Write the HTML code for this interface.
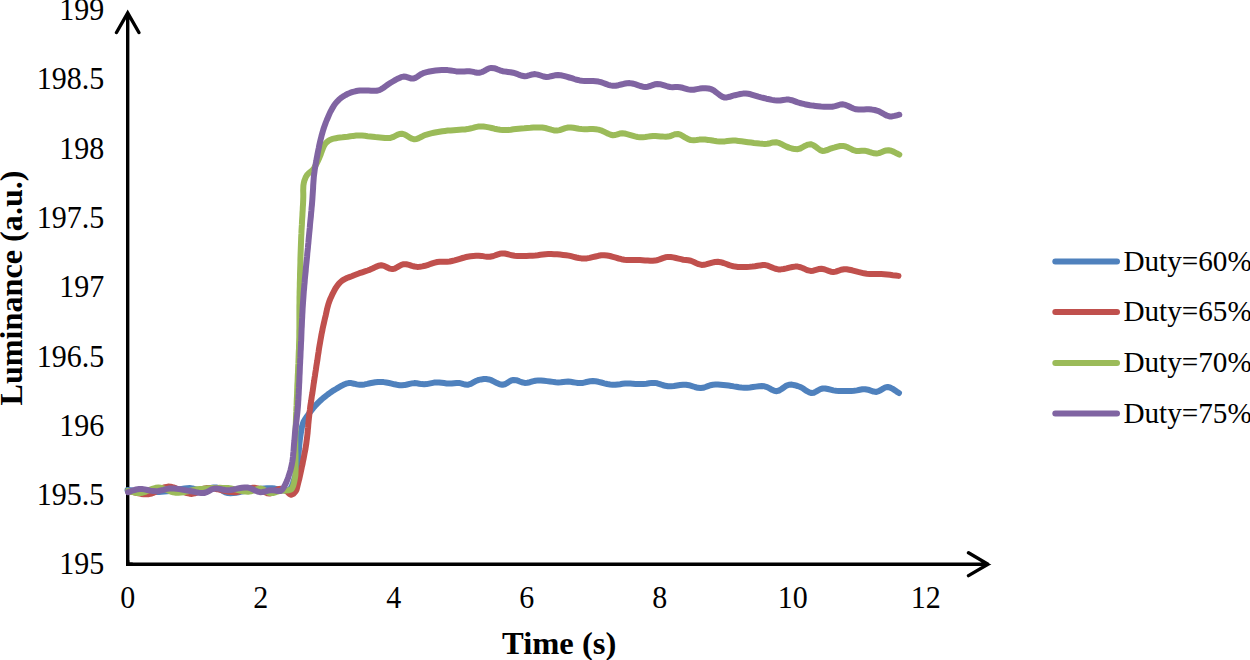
<!DOCTYPE html><html><head><meta charset="utf-8"><style>html,body{margin:0;padding:0;background:#fff;}body{width:1250px;height:660px;overflow:hidden;}svg{display:block;}text{font-family:"Liberation Serif",serif;fill:#000;}</style></head><body>
<svg width="1250" height="660" viewBox="0 0 1250 660">
<text transform="translate(104.2 574.4) scale(1 1.050)" font-size="30.0" text-anchor="end">195</text>
<text transform="translate(104.2 505.1) scale(1 1.050)" font-size="30.0" text-anchor="end">195.5</text>
<text transform="translate(104.2 435.8) scale(1 1.050)" font-size="30.0" text-anchor="end">196</text>
<text transform="translate(104.2 366.5) scale(1 1.050)" font-size="30.0" text-anchor="end">196.5</text>
<text transform="translate(104.2 297.3) scale(1 1.050)" font-size="30.0" text-anchor="end">197</text>
<text transform="translate(104.2 228.0) scale(1 1.050)" font-size="30.0" text-anchor="end">197.5</text>
<text transform="translate(104.2 158.7) scale(1 1.050)" font-size="30.0" text-anchor="end">198</text>
<text transform="translate(104.2 89.4) scale(1 1.050)" font-size="30.0" text-anchor="end">198.5</text>
<text transform="translate(104.2 20.1) scale(1 1.050)" font-size="30.0" text-anchor="end">199</text>
<text transform="translate(127.8 608.0) scale(1 1.050)" font-size="30.0" text-anchor="middle">0</text>
<text transform="translate(260.8 608.0) scale(1 1.050)" font-size="30.0" text-anchor="middle">2</text>
<text transform="translate(393.8 608.0) scale(1 1.050)" font-size="30.0" text-anchor="middle">4</text>
<text transform="translate(526.8 608.0) scale(1 1.050)" font-size="30.0" text-anchor="middle">6</text>
<text transform="translate(659.8 608.0) scale(1 1.050)" font-size="30.0" text-anchor="middle">8</text>
<text transform="translate(792.8 608.0) scale(1 1.050)" font-size="30.0" text-anchor="middle">10</text>
<text transform="translate(925.8 608.0) scale(1 1.050)" font-size="30.0" text-anchor="middle">12</text>
<text x="559.2" y="654.2" font-size="32.6" font-weight="bold" text-anchor="middle">Time (s)</text>
<text transform="translate(22.4 288.0) rotate(-90)" font-size="32.2" font-weight="bold" text-anchor="middle">Luminance (a.u.)</text>
<path d="M127.7 564.2 L127.7 13 M116.5 32.5 L127.7 13 L138.9 32.5" fill="none" stroke="#000" stroke-width="3.4" stroke-linecap="round" stroke-linejoin="miter"/>
<path d="M127.7 564.2 L988 564.2 M968.5 552.8 L988 564.2 L968.5 575.6" fill="none" stroke="#000" stroke-width="3.4" stroke-linecap="round" stroke-linejoin="miter"/>
<path d="M127.7 562 L127.7 564.2 L131 564.2" fill="none" stroke="#000" stroke-width="3.4" stroke-linecap="square" stroke-linejoin="miter"/>
<path d="M127.5 490.0 L130.3 490.3 L133.2 490.6 L136.0 491.0 L138.8 491.3 L141.7 491.6 L144.5 491.9 L147.2 492.1 L150.0 492.2 L152.9 492.2 L155.8 492.1 L158.7 492.0 L161.5 491.7 L164.3 491.5 L167.2 491.2 L170.0 490.9 L172.9 490.5 L175.8 490.0 L178.7 489.5 L181.6 488.9 L184.5 488.5 L187.1 488.2 L189.6 488.1 L192.4 488.4 L194.9 489.1 L197.3 489.8 L200.0 490.1 L202.5 489.9 L205.2 489.3 L208.0 488.6 L210.8 487.9 L213.5 487.5 L216.0 487.5 L218.5 488.2 L220.8 489.5 L223.0 491.0 L225.4 492.3 L228.0 493.1 L230.4 493.3 L233.0 493.1 L235.7 492.8 L238.5 492.2 L241.4 491.6 L244.3 491.0 L247.2 490.5 L250.0 490.1 L252.8 489.8 L255.7 489.4 L258.6 489.1 L261.5 488.8 L264.4 488.5 L267.1 488.3 L269.7 488.3 L272.0 488.3 L274.8 488.6 L277.4 489.2 L279.7 489.7 L282.0 490.1 L284.5 490.4 L286.9 490.6 L289.0 490.0 L290.6 488.4 L291.9 485.9 L293.0 483.0 L294.0 480.0 L294.7 477.7 L295.4 475.2 L296.0 472.6 L296.5 469.8 L297.0 467.1 L297.4 464.4 L297.8 461.8 L298.1 459.1 L298.4 456.4 L298.6 453.8 L298.8 451.2 L299.0 448.6 L299.2 446.0 L299.5 443.1 L299.8 440.2 L300.2 437.4 L300.6 434.6 L301.0 432.0 L301.5 429.3 L302.0 426.7 L302.7 424.3 L303.5 422.0 L304.8 419.6 L306.3 417.3 L308.0 415.0 L309.6 412.8 L311.4 410.4 L313.2 408.1 L315.0 406.0 L317.0 403.9 L319.0 401.9 L321.0 400.0 L323.1 398.1 L325.4 396.3 L327.7 394.5 L329.6 393.1 L331.6 391.7 L333.7 390.3 L336.0 389.0 L338.3 387.6 L340.8 386.2 L343.4 384.8 L346.0 383.7 L348.6 383.1 L351.3 383.1 L354.0 383.7 L356.8 384.4 L359.8 384.8 L362.1 384.7 L364.6 384.4 L367.2 383.9 L369.9 383.3 L372.6 382.8 L375.4 382.3 L378.1 382.0 L380.8 381.9 L383.5 382.1 L386.2 382.5 L389.0 383.0 L391.7 383.6 L394.4 384.3 L397.0 384.8 L399.5 385.2 L401.9 385.3 L404.6 385.1 L407.2 384.5 L409.6 383.9 L412.0 383.4 L414.3 383.1 L416.8 383.3 L419.2 383.7 L421.7 384.1 L424.2 384.3 L426.6 384.1 L429.1 383.6 L431.6 383.1 L434.1 382.6 L436.6 382.4 L439.1 382.5 L441.6 382.8 L444.1 383.1 L446.6 383.4 L449.0 383.6 L451.6 383.5 L454.1 383.2 L456.6 382.9 L459.0 382.9 L461.9 383.6 L464.7 384.5 L467.6 384.8 L469.8 384.2 L472.0 383.2 L474.3 381.9 L476.6 380.7 L478.8 379.9 L481.3 379.4 L483.7 379.1 L486.1 379.1 L488.7 379.4 L491.3 380.2 L494.1 381.6 L496.9 383.1 L499.7 384.3 L502.4 384.8 L504.7 384.3 L506.9 383.1 L509.1 381.7 L511.3 380.5 L513.5 379.9 L516.2 380.2 L519.0 381.2 L521.8 382.3 L524.7 382.9 L527.3 382.7 L529.9 382.2 L532.6 381.4 L535.4 380.8 L538.3 380.4 L541.0 380.4 L543.9 380.7 L546.9 381.1 L549.9 381.5 L552.9 381.9 L555.7 382.3 L558.2 382.4 L560.9 382.3 L563.3 382.0 L565.6 381.7 L568.1 381.6 L570.5 381.8 L573.0 382.2 L575.5 382.6 L578.0 383.0 L580.5 383.1 L582.9 382.9 L585.3 382.3 L587.7 381.8 L590.2 381.3 L592.9 381.1 L595.5 381.3 L598.4 381.8 L601.3 382.5 L604.3 383.3 L607.2 384.0 L610.1 384.5 L612.7 384.8 L615.3 384.8 L617.7 384.5 L620.1 384.2 L622.5 383.8 L625.1 383.6 L627.6 383.6 L630.2 383.6 L632.9 383.7 L635.7 383.9 L638.4 384.0 L641.0 384.0 L643.4 384.0 L646.4 383.7 L649.1 383.3 L651.8 382.9 L654.6 382.9 L657.2 383.3 L659.8 384.1 L662.5 385.0 L665.2 385.8 L668.1 386.3 L670.9 386.3 L673.9 386.0 L677.0 385.5 L680.1 385.0 L683.1 384.7 L686.0 384.7 L689.0 385.2 L692.0 386.1 L694.9 387.0 L697.8 387.8 L700.6 388.1 L703.1 387.8 L705.5 387.0 L707.9 386.1 L710.3 385.2 L712.9 384.7 L715.4 384.6 L718.0 384.6 L720.6 384.8 L723.3 385.0 L726.0 385.3 L728.6 385.6 L731.2 385.9 L733.7 386.4 L736.3 386.8 L738.9 387.3 L741.5 387.6 L744.2 387.8 L747.0 387.7 L749.9 387.4 L753.0 387.0 L756.0 386.6 L759.0 386.2 L761.8 386.1 L764.4 386.3 L767.1 387.1 L769.6 388.4 L772.0 389.8 L774.3 390.8 L776.7 391.2 L779.2 390.5 L781.6 389.0 L784.1 387.2 L786.5 385.6 L789.0 384.7 L791.8 384.6 L794.7 385.2 L797.5 386.0 L800.3 387.0 L802.6 388.1 L804.8 389.7 L807.0 391.2 L809.3 392.4 L811.5 393.0 L813.7 392.7 L815.9 391.6 L818.1 390.3 L820.4 389.1 L822.7 388.5 L825.2 388.5 L827.8 389.0 L830.5 389.7 L833.3 390.4 L836.1 390.8 L839.0 391.0 L842.0 391.1 L845.1 391.1 L848.2 391.1 L851.2 391.0 L854.0 390.8 L857.0 390.4 L859.8 389.8 L862.5 389.3 L865.2 389.2 L868.0 389.7 L870.8 390.7 L873.6 391.6 L876.4 391.9 L878.7 391.2 L880.9 390.0 L883.1 388.6 L885.4 387.4 L887.6 387.0 L889.9 387.5 L892.2 388.6 L894.4 390.1 L896.7 391.6 L899.0 393.0" fill="none" stroke="#4F81BD" stroke-width="6.0" stroke-linecap="round" stroke-linejoin="round"/>
<path d="M128.0 491.2 L130.6 491.6 L133.2 492.2 L135.9 492.8 L138.5 493.4 L141.1 493.9 L143.7 494.2 L146.3 494.3 L148.8 494.2 L151.6 493.5 L154.3 492.4 L157.0 491.0 L159.7 489.5 L162.4 488.1 L165.1 487.1 L168.0 486.6 L170.6 486.8 L173.3 487.4 L176.0 488.4 L178.8 489.6 L181.6 490.9 L184.4 492.1 L187.0 493.1 L189.6 493.7 L192.0 493.9 L194.6 493.4 L196.9 492.4 L199.1 491.2 L201.3 489.9 L203.7 488.7 L206.4 488.1 L208.8 488.0 L211.4 488.2 L214.2 488.6 L217.1 489.2 L220.1 489.9 L223.0 490.6 L226.0 491.3 L228.9 491.8 L231.7 492.1 L234.4 492.2 L237.2 491.9 L239.9 491.3 L242.6 490.6 L245.3 489.7 L247.9 488.9 L250.4 488.2 L252.8 487.8 L255.2 487.8 L257.8 488.4 L260.4 489.6 L262.8 490.9 L265.2 492.3 L267.4 493.3 L269.6 493.6 L272.1 492.9 L274.4 491.4 L276.7 489.8 L278.8 488.9 L281.0 488.8 L283.0 489.3 L285.0 490.0 L287.2 491.7 L289.2 493.8 L291.2 494.8 L293.5 493.8 L295.5 491.6 L296.6 489.5 L297.3 486.8 L298.0 483.9 L298.7 481.0 L299.4 478.4 L300.0 475.7 L300.6 472.9 L301.2 470.1 L301.8 467.2 L302.4 464.6 L302.9 461.9 L303.5 459.2 L304.0 456.5 L304.5 453.8 L305.0 451.2 L305.5 448.6 L305.9 446.0 L306.3 443.5 L306.6 440.9 L307.0 438.0 L307.3 435.5 L307.6 432.9 L307.8 430.2 L308.1 427.3 L308.3 424.4 L308.6 421.4 L308.9 418.5 L309.2 415.6 L309.5 412.7 L309.9 409.9 L310.2 407.0 L310.6 404.2 L311.1 401.4 L311.5 398.5 L311.9 395.7 L312.4 392.9 L312.8 390.1 L313.2 387.3 L313.6 384.3 L314.1 381.3 L314.5 378.3 L315.0 375.4 L315.4 372.4 L315.9 369.5 L316.3 366.6 L316.8 363.6 L317.3 360.6 L317.7 357.7 L318.1 354.7 L318.6 351.7 L319.0 348.8 L319.5 345.8 L320.0 342.9 L320.5 340.0 L321.0 337.2 L321.5 334.4 L322.1 331.7 L322.6 328.9 L323.2 326.2 L323.8 323.5 L324.4 320.8 L325.0 318.2 L325.7 315.4 L326.3 312.6 L326.9 309.8 L327.6 307.1 L328.3 304.4 L329.2 301.7 L330.2 299.1 L331.4 296.5 L332.6 293.8 L334.0 291.1 L335.4 288.5 L337.0 286.1 L338.7 283.9 L340.5 282.0 L342.5 280.4 L344.7 279.1 L346.9 278.0 L349.3 277.1 L351.7 276.2 L354.1 275.2 L356.7 274.2 L359.4 273.2 L362.2 272.3 L364.9 271.4 L367.6 270.5 L370.1 269.6 L373.0 268.3 L375.8 266.9 L378.5 265.8 L381.3 265.3 L384.1 265.9 L386.9 267.2 L389.7 268.6 L392.5 269.1 L394.7 268.6 L396.9 267.4 L399.1 266.1 L401.4 264.9 L403.7 264.2 L406.3 264.3 L409.1 264.9 L411.9 265.8 L414.6 266.5 L417.1 266.9 L419.8 266.8 L422.3 266.4 L425.0 265.8 L427.3 265.2 L429.7 264.3 L432.2 263.4 L434.8 262.6 L437.3 262.0 L439.7 261.7 L442.1 261.7 L444.5 261.8 L447.0 261.7 L449.6 261.5 L452.0 261.0 L454.6 260.4 L457.3 259.6 L459.9 258.8 L462.6 258.0 L465.1 257.3 L467.5 256.8 L470.5 256.3 L473.3 256.0 L476.0 255.8 L478.7 255.7 L481.5 255.9 L484.3 256.4 L487.1 256.8 L489.9 256.8 L492.3 256.3 L494.8 255.5 L497.2 254.6 L499.7 253.8 L502.2 253.4 L504.6 253.5 L507.0 254.0 L509.5 254.7 L512.0 255.3 L514.6 255.7 L517.4 255.9 L520.4 256.0 L523.4 256.0 L526.5 255.9 L529.5 255.8 L532.5 255.7 L535.2 255.5 L537.8 255.2 L540.4 254.8 L542.9 254.5 L545.5 254.2 L548.2 254.1 L551.1 254.1 L554.1 254.2 L557.1 254.3 L560.1 254.6 L563.1 254.9 L566.1 255.2 L568.7 255.6 L571.2 256.2 L573.7 256.8 L576.3 257.5 L578.8 258.0 L581.4 258.4 L584.0 258.6 L586.8 258.4 L589.7 257.9 L592.6 257.2 L595.5 256.5 L598.4 255.8 L601.3 255.3 L604.2 255.2 L607.1 255.5 L610.0 256.0 L612.9 256.8 L615.9 257.7 L618.7 258.5 L621.5 259.2 L624.3 259.7 L627.0 260.0 L629.7 260.1 L632.3 260.1 L634.9 260.1 L637.4 260.1 L640.0 260.1 L642.5 260.2 L645.1 260.4 L647.7 260.6 L650.2 260.8 L652.7 260.8 L655.1 260.6 L657.8 260.0 L660.3 259.1 L662.9 258.1 L665.4 257.3 L668.1 256.9 L670.6 257.0 L673.2 257.4 L675.9 258.0 L678.5 258.6 L681.0 259.2 L683.2 259.7 L685.9 260.0 L688.3 260.3 L690.8 260.8 L693.3 261.8 L695.9 263.0 L698.7 264.2 L701.6 264.9 L704.1 264.8 L706.7 264.2 L709.5 263.4 L712.2 262.6 L715.0 262.0 L717.8 261.8 L720.6 262.2 L723.5 263.0 L726.4 264.0 L729.2 265.1 L732.1 266.0 L735.0 266.6 L737.9 266.9 L740.8 267.0 L743.8 267.0 L746.7 266.9 L749.6 266.8 L752.3 266.6 L755.0 266.3 L757.7 265.8 L760.2 265.4 L762.8 265.1 L765.3 265.1 L767.9 265.7 L770.3 266.7 L772.8 267.8 L775.4 268.8 L778.2 269.4 L780.8 269.4 L783.6 269.0 L786.5 268.4 L789.4 267.6 L792.3 267.0 L795.1 266.6 L797.7 266.6 L800.5 267.2 L803.1 268.2 L805.7 269.4 L808.1 270.4 L810.6 270.9 L813.3 270.7 L816.0 269.9 L818.7 269.1 L821.4 268.8 L823.8 269.2 L826.2 270.0 L828.6 270.9 L830.9 271.7 L833.3 272.0 L835.9 271.6 L838.5 270.7 L841.1 269.7 L844.1 269.2 L846.6 269.3 L849.2 269.7 L852.1 270.3 L855.1 271.1 L858.1 271.9 L861.1 272.6 L864.0 273.3 L866.8 273.7 L869.8 273.9 L872.8 274.0 L875.7 274.1 L878.5 274.0 L881.3 274.1 L884.1 274.2 L887.1 274.5 L890.0 274.8 L892.8 275.2 L895.6 275.5 L898.5 275.9" fill="none" stroke="#C0504D" stroke-width="6.0" stroke-linecap="round" stroke-linejoin="round"/>
<path d="M128.0 490.9 L130.4 491.4 L132.7 492.1 L135.0 492.6 L137.4 493.0 L140.0 493.1 L142.4 492.7 L145.0 491.9 L147.6 490.8 L150.3 489.6 L153.1 488.6 L155.8 487.8 L158.4 487.5 L160.9 487.8 L163.4 488.5 L165.8 489.5 L168.3 490.5 L170.8 491.6 L173.3 492.4 L176.0 492.8 L178.5 492.8 L181.0 492.6 L183.6 492.2 L186.3 491.6 L189.0 491.0 L191.7 490.4 L194.5 489.8 L197.2 489.3 L200.0 488.9 L202.7 488.7 L205.5 488.4 L208.4 488.2 L211.3 488.1 L214.2 487.9 L217.0 487.9 L219.9 487.8 L222.7 487.9 L225.4 487.9 L228.0 488.1 L231.1 488.5 L234.1 489.1 L237.1 489.8 L239.9 490.5 L242.7 491.2 L245.4 491.6 L248.0 491.7 L250.8 491.3 L253.4 490.4 L256.0 489.5 L258.4 488.8 L260.8 488.6 L263.3 489.4 L265.7 490.9 L268.0 492.3 L270.4 493.1 L272.8 493.0 L275.3 492.3 L277.7 491.5 L280.0 490.9 L282.1 490.7 L284.1 490.6 L286.0 490.5 L288.8 490.3 L291.2 489.4 L292.3 487.9 L293.2 485.8 L293.9 483.2 L294.5 480.5 L295.0 477.8 L295.4 475.1 L295.5 472.2 L295.6 469.2 L295.5 466.2 L295.5 463.1 L295.5 460.0 L295.5 457.3 L295.5 454.6 L295.4 452.0 L295.3 449.3 L295.3 446.4 L295.3 443.3 L295.3 440.0 L295.3 437.6 L295.4 435.1 L295.5 432.5 L295.6 429.8 L295.7 426.9 L295.8 424.0 L295.9 421.0 L296.0 418.0 L296.1 414.8 L296.3 411.7 L296.4 408.6 L296.6 405.4 L296.7 402.2 L296.8 399.1 L297.0 396.0 L297.1 393.0 L297.2 390.0 L297.3 387.0 L297.4 384.1 L297.6 381.1 L297.7 378.1 L297.8 375.1 L298.0 372.1 L298.1 369.1 L298.2 366.1 L298.4 363.2 L298.5 360.2 L298.6 357.2 L298.7 354.3 L298.8 351.4 L299.0 348.5 L299.0 345.6 L299.1 342.8 L299.2 340.0 L299.3 337.0 L299.3 334.1 L299.3 331.3 L299.4 328.5 L299.4 325.7 L299.4 323.0 L299.4 320.2 L299.4 317.5 L299.4 314.7 L299.4 311.9 L299.4 309.0 L299.4 306.1 L299.5 303.1 L299.5 300.0 L299.5 297.4 L299.6 294.7 L299.6 292.0 L299.7 289.1 L299.8 286.3 L299.8 283.4 L299.9 280.4 L300.0 277.5 L300.0 274.5 L300.1 271.5 L300.2 268.5 L300.3 265.5 L300.4 262.5 L300.4 259.5 L300.5 256.6 L300.6 253.7 L300.7 250.8 L300.8 248.0 L300.9 245.3 L301.0 242.6 L301.1 240.0 L301.2 236.9 L301.4 233.7 L301.5 230.6 L301.7 227.5 L301.9 224.4 L302.0 221.4 L302.2 218.4 L302.4 215.5 L302.5 212.7 L302.7 210.0 L302.8 207.3 L303.0 204.8 L303.1 202.3 L303.2 200.0 L303.3 196.7 L303.3 193.6 L303.2 190.7 L303.3 187.9 L303.4 185.4 L303.8 183.0 L304.4 180.6 L305.3 178.3 L306.2 176.3 L307.4 174.5 L309.1 172.8 L311.0 171.4 L312.9 169.7 L314.2 167.9 L315.4 165.8 L316.6 163.6 L317.8 161.2 L318.9 158.8 L319.9 156.4 L320.9 153.8 L321.9 151.0 L322.9 148.4 L323.9 146.1 L325.0 144.2 L326.5 142.4 L328.1 141.1 L329.8 140.0 L331.7 139.2 L333.7 138.7 L335.9 138.2 L338.0 137.8 L340.2 137.5 L342.5 137.3 L345.0 137.0 L347.6 136.7 L350.4 136.3 L353.3 135.9 L356.2 135.6 L359.1 135.5 L361.9 135.6 L364.8 135.8 L367.6 136.2 L370.3 136.5 L372.7 136.8 L375.3 137.1 L377.6 137.3 L380.0 137.5 L382.5 137.7 L385.1 138.0 L387.7 138.1 L390.4 137.9 L392.7 137.2 L394.9 136.1 L397.2 134.9 L399.5 134.0 L401.8 133.7 L404.3 134.3 L406.8 135.7 L409.3 137.3 L411.8 138.7 L414.3 139.3 L416.6 139.0 L418.8 138.1 L421.0 137.0 L423.3 135.8 L425.8 134.8 L428.3 134.1 L431.0 133.4 L433.7 132.8 L436.5 132.2 L439.4 131.7 L442.4 131.2 L445.0 130.9 L447.7 130.6 L450.6 130.4 L453.6 130.2 L456.5 130.0 L459.4 129.8 L462.3 129.6 L464.9 129.4 L467.4 129.1 L470.3 128.5 L473.0 127.9 L475.5 127.2 L478.1 126.6 L480.9 126.4 L483.4 126.5 L486.0 126.9 L488.8 127.4 L491.6 128.0 L494.4 128.7 L497.2 129.3 L500.0 129.8 L502.7 130.0 L505.4 130.0 L508.1 129.9 L510.8 129.7 L513.4 129.3 L516.0 129.0 L518.7 128.7 L521.4 128.5 L524.3 128.3 L527.4 128.0 L530.4 127.8 L533.5 127.5 L536.5 127.4 L539.4 127.4 L542.2 127.5 L545.3 128.0 L548.3 128.8 L551.2 129.7 L554.0 130.4 L556.8 130.6 L559.7 130.1 L562.5 129.1 L565.3 128.1 L568.2 127.5 L570.8 127.5 L573.4 127.8 L576.1 128.3 L578.9 128.8 L581.7 129.1 L584.4 129.2 L587.2 129.2 L590.0 129.1 L592.9 129.1 L595.7 129.2 L598.4 129.6 L600.9 130.3 L603.5 131.4 L605.9 132.6 L608.3 133.8 L610.7 134.7 L612.9 135.2 L615.3 135.0 L617.5 134.3 L619.8 133.6 L622.3 133.3 L624.6 133.5 L627.0 134.1 L629.6 134.8 L632.3 135.6 L635.0 136.4 L637.6 137.0 L640.0 137.3 L642.7 137.3 L645.3 137.0 L647.8 136.6 L650.4 136.2 L653.0 136.0 L655.5 136.0 L658.1 136.2 L660.7 136.4 L663.3 136.6 L665.8 136.7 L668.1 136.6 L670.7 136.0 L673.0 135.0 L675.4 134.2 L677.8 134.0 L680.3 134.7 L682.9 136.1 L685.5 137.7 L688.2 139.2 L690.8 140.1 L693.7 140.3 L696.5 140.0 L699.4 139.6 L702.6 139.4 L705.2 139.6 L708.0 139.9 L710.9 140.3 L713.9 140.8 L716.8 141.2 L719.6 141.5 L722.1 141.6 L724.9 141.4 L727.4 141.0 L730.0 140.7 L732.9 140.5 L735.5 140.6 L738.4 140.9 L741.5 141.3 L744.7 141.7 L748.0 142.2 L751.1 142.6 L754.0 143.0 L756.6 143.3 L759.6 143.6 L762.3 143.8 L764.9 143.9 L767.4 143.8 L770.3 143.2 L773.1 142.4 L776.1 142.2 L778.6 142.8 L781.2 143.9 L783.9 145.3 L786.5 146.6 L789.0 147.6 L791.9 148.5 L794.7 149.1 L797.7 149.2 L800.2 148.5 L802.7 147.2 L805.4 145.7 L808.0 144.6 L810.6 144.2 L813.0 145.0 L815.5 146.6 L817.8 148.4 L820.2 150.1 L822.5 150.9 L824.9 150.7 L827.3 150.0 L829.7 148.9 L832.2 148.1 L834.8 147.4 L837.5 146.6 L840.2 146.0 L843.0 145.9 L845.6 146.5 L848.2 147.6 L850.9 148.9 L853.5 150.2 L856.0 150.9 L858.9 151.0 L861.7 150.7 L864.6 150.7 L866.9 151.1 L869.2 151.9 L871.7 152.7 L874.1 153.3 L876.5 153.5 L878.9 153.1 L881.3 152.2 L883.7 151.2 L886.1 150.5 L888.4 150.2 L891.2 150.8 L893.9 151.9 L896.6 153.3 L899.3 154.6" fill="none" stroke="#9BBB59" stroke-width="6.0" stroke-linecap="round" stroke-linejoin="round"/>
<path d="M128.0 492.2 L130.7 491.3 L133.4 490.3 L136.2 489.5 L139.2 489.0 L141.8 489.0 L144.6 489.4 L147.4 490.0 L150.3 490.6 L153.2 491.1 L156.0 491.2 L158.6 491.0 L161.1 490.4 L163.5 489.8 L166.0 489.1 L168.6 488.6 L171.2 488.4 L173.8 488.5 L176.5 488.7 L179.3 489.1 L182.0 489.6 L184.8 490.1 L187.4 490.6 L190.0 491.0 L193.0 491.5 L195.9 492.2 L198.7 492.7 L201.4 493.1 L204.0 493.0 L206.7 492.2 L209.2 490.8 L211.7 489.4 L214.4 488.6 L216.9 488.5 L219.6 488.9 L222.3 489.5 L225.1 490.0 L228.0 490.2 L230.6 490.0 L233.4 489.5 L236.2 488.9 L239.1 488.2 L241.9 487.7 L244.7 487.4 L247.2 487.4 L250.0 488.1 L252.6 489.2 L255.1 490.5 L257.6 491.6 L260.0 492.2 L262.7 492.0 L265.5 491.4 L268.1 490.6 L270.4 490.2 L272.9 490.3 L275.3 490.5 L278.0 491.1 L280.6 491.0 L282.2 489.7 L283.6 487.6 L284.9 485.2 L286.1 482.8 L287.2 480.2 L288.2 477.4 L289.1 474.6 L289.9 472.2 L290.6 469.7 L291.2 467.1 L291.8 464.5 L292.3 461.8 L292.7 459.3 L293.0 456.6 L293.2 454.0 L293.5 451.3 L293.7 448.6 L293.9 445.9 L294.1 443.3 L294.4 440.7 L294.6 438.1 L294.8 435.5 L295.0 432.8 L295.3 430.0 L295.6 427.6 L295.9 425.2 L296.2 422.8 L296.5 420.3 L296.8 417.7 L297.1 415.0 L297.4 412.1 L297.7 409.0 L297.9 406.7 L298.1 404.3 L298.2 401.8 L298.4 399.2 L298.5 396.5 L298.7 393.7 L298.8 390.8 L299.0 387.9 L299.1 384.9 L299.3 381.8 L299.4 378.8 L299.5 375.7 L299.7 372.6 L299.8 369.5 L299.9 366.4 L300.1 363.4 L300.2 360.4 L300.4 357.4 L300.5 354.5 L300.6 351.6 L300.8 348.8 L300.9 345.9 L301.0 343.1 L301.2 340.2 L301.3 337.4 L301.4 334.5 L301.5 331.7 L301.6 328.8 L301.8 326.0 L301.9 323.1 L302.0 320.3 L302.2 317.4 L302.3 314.5 L302.5 311.6 L302.6 308.7 L302.8 305.8 L303.0 302.9 L303.2 300.0 L303.4 297.2 L303.6 294.3 L303.8 291.5 L304.1 288.6 L304.3 285.6 L304.6 282.7 L304.8 279.8 L305.1 276.8 L305.4 273.8 L305.7 270.9 L305.9 267.9 L306.2 265.0 L306.5 262.1 L306.8 259.2 L307.1 256.3 L307.3 253.5 L307.6 250.7 L307.9 248.0 L308.1 245.3 L308.4 242.6 L308.6 240.0 L308.9 236.9 L309.2 233.8 L309.5 230.7 L309.8 227.7 L310.0 224.8 L310.3 221.8 L310.6 218.9 L310.9 216.1 L311.1 213.3 L311.4 210.5 L311.6 207.8 L311.9 205.2 L312.1 202.6 L312.3 200.0 L312.5 196.9 L312.7 193.9 L312.9 190.9 L313.1 188.0 L313.2 185.2 L313.4 182.5 L313.6 179.8 L313.8 177.1 L314.1 174.5 L314.5 171.7 L314.8 169.1 L315.3 166.5 L315.7 163.9 L316.2 161.4 L316.6 158.9 L317.1 156.4 L317.6 153.6 L318.2 150.7 L318.8 147.9 L319.3 145.1 L319.9 142.5 L320.5 140.0 L321.2 137.3 L321.8 134.8 L322.5 132.4 L323.2 130.0 L324.0 127.5 L324.9 125.0 L325.8 122.5 L326.8 120.0 L327.9 117.5 L329.0 114.9 L330.1 112.4 L331.4 110.0 L332.6 107.8 L333.9 105.7 L335.3 103.6 L336.8 101.8 L338.8 99.8 L340.9 98.0 L343.2 96.4 L345.6 95.0 L348.0 93.7 L350.5 92.7 L352.9 91.9 L355.3 91.3 L357.7 90.8 L359.8 90.5 L361.9 90.4 L364.0 90.4 L366.3 90.5 L368.6 90.6 L371.0 90.7 L373.7 90.7 L376.5 90.7 L379.3 90.1 L381.4 89.1 L383.5 87.7 L385.7 86.1 L387.9 84.5 L390.2 83.0 L392.8 81.5 L395.5 79.9 L398.3 78.4 L401.0 77.2 L403.6 76.6 L406.1 76.8 L408.5 77.6 L410.8 78.4 L413.2 78.6 L415.3 77.9 L417.3 76.7 L419.4 75.3 L421.6 73.9 L424.1 72.8 L426.7 72.1 L429.5 71.5 L432.5 71.0 L435.6 70.6 L438.7 70.3 L441.7 70.1 L444.5 70.0 L447.6 70.1 L450.6 70.5 L453.5 70.9 L456.3 71.4 L459.0 71.6 L461.7 71.6 L464.3 71.4 L466.8 71.2 L469.4 71.2 L472.0 71.6 L474.6 72.2 L477.2 72.7 L479.8 72.7 L482.1 72.0 L484.4 70.9 L486.7 69.5 L489.0 68.4 L491.3 67.9 L494.1 68.2 L497.0 69.2 L499.9 70.3 L502.7 71.2 L505.3 71.6 L507.9 71.9 L510.5 72.2 L513.1 72.7 L515.4 73.4 L517.7 74.2 L520.0 75.1 L522.3 75.8 L524.6 76.2 L527.2 75.9 L529.8 75.2 L532.4 74.4 L535.0 74.1 L537.8 74.6 L540.7 75.5 L543.5 76.5 L546.4 77.0 L549.2 76.7 L552.1 76.0 L554.9 75.3 L557.8 75.0 L560.7 75.3 L563.6 75.9 L566.5 76.7 L569.3 77.5 L571.9 78.2 L574.3 79.0 L576.9 79.8 L579.7 80.4 L582.1 80.7 L584.7 80.9 L587.5 80.9 L590.3 81.0 L593.1 81.1 L595.8 81.3 L598.4 81.6 L600.9 82.2 L603.3 83.0 L605.7 83.9 L608.1 84.8 L610.4 85.4 L612.9 85.8 L615.6 85.7 L618.4 85.2 L621.2 84.5 L624.0 83.8 L626.8 83.2 L629.6 83.1 L632.3 83.5 L635.0 84.2 L637.7 85.1 L640.3 86.0 L642.9 86.7 L645.4 87.0 L647.9 86.7 L650.3 86.0 L652.6 85.1 L654.9 84.3 L657.3 84.0 L659.9 84.2 L662.5 84.9 L665.1 85.7 L667.7 86.5 L670.2 87.0 L672.7 87.2 L675.2 87.1 L677.6 87.0 L680.0 87.2 L682.7 87.8 L685.3 88.6 L688.0 89.4 L690.8 89.8 L693.7 89.7 L696.8 89.1 L699.8 88.6 L702.6 88.3 L705.6 88.3 L708.4 88.5 L711.3 89.2 L713.4 90.2 L715.5 91.8 L717.7 93.5 L719.9 95.2 L722.0 96.6 L724.2 97.4 L726.9 97.4 L729.6 96.8 L732.3 95.9 L735.0 95.2 L737.7 94.6 L740.3 94.0 L743.0 93.6 L745.8 93.5 L748.2 93.8 L750.7 94.3 L753.2 95.1 L755.8 95.9 L758.4 96.7 L761.0 97.4 L763.7 98.0 L766.4 98.7 L769.2 99.3 L771.9 99.9 L774.5 100.3 L777.1 100.6 L780.2 100.5 L783.2 100.0 L786.1 99.6 L789.0 99.6 L791.7 100.2 L794.4 101.1 L797.0 102.1 L799.8 103.0 L802.3 103.6 L804.8 104.2 L807.3 104.7 L810.0 105.2 L812.8 105.6 L815.4 105.9 L818.2 106.2 L821.1 106.5 L824.1 106.7 L827.0 106.8 L829.7 106.8 L832.2 106.7 L835.1 106.1 L837.8 105.3 L840.3 104.5 L843.0 104.3 L845.5 104.9 L848.1 106.0 L850.7 107.3 L853.4 108.5 L856.0 109.3 L858.6 109.6 L861.3 109.5 L863.9 109.4 L866.5 109.2 L868.9 109.3 L871.9 109.6 L874.7 110.0 L877.6 110.8 L879.9 111.8 L882.3 113.1 L884.7 114.5 L887.1 115.7 L889.5 116.4 L892.0 116.4 L894.4 115.9 L896.9 115.3 L899.3 114.7" fill="none" stroke="#8064A2" stroke-width="6.0" stroke-linecap="round" stroke-linejoin="round"/>
<line x1="1055.3" y1="261.4" x2="1117.0" y2="261.4" stroke="#4F81BD" stroke-width="6.0" stroke-linecap="round"/>
<text transform="translate(1123.4 270.6) scale(1 1.035)" font-size="29.2">Duty=60%</text>
<line x1="1055.3" y1="312.1" x2="1117.0" y2="312.1" stroke="#C0504D" stroke-width="6.0" stroke-linecap="round"/>
<text transform="translate(1123.4 321.3) scale(1 1.035)" font-size="29.2">Duty=65%</text>
<line x1="1055.3" y1="362.9" x2="1117.0" y2="362.9" stroke="#9BBB59" stroke-width="6.0" stroke-linecap="round"/>
<text transform="translate(1123.4 372.1) scale(1 1.035)" font-size="29.2">Duty=70%</text>
<line x1="1055.3" y1="413.6" x2="1117.0" y2="413.6" stroke="#8064A2" stroke-width="6.0" stroke-linecap="round"/>
<text transform="translate(1123.4 422.8) scale(1 1.035)" font-size="29.2">Duty=75%</text>
</svg></body></html>
